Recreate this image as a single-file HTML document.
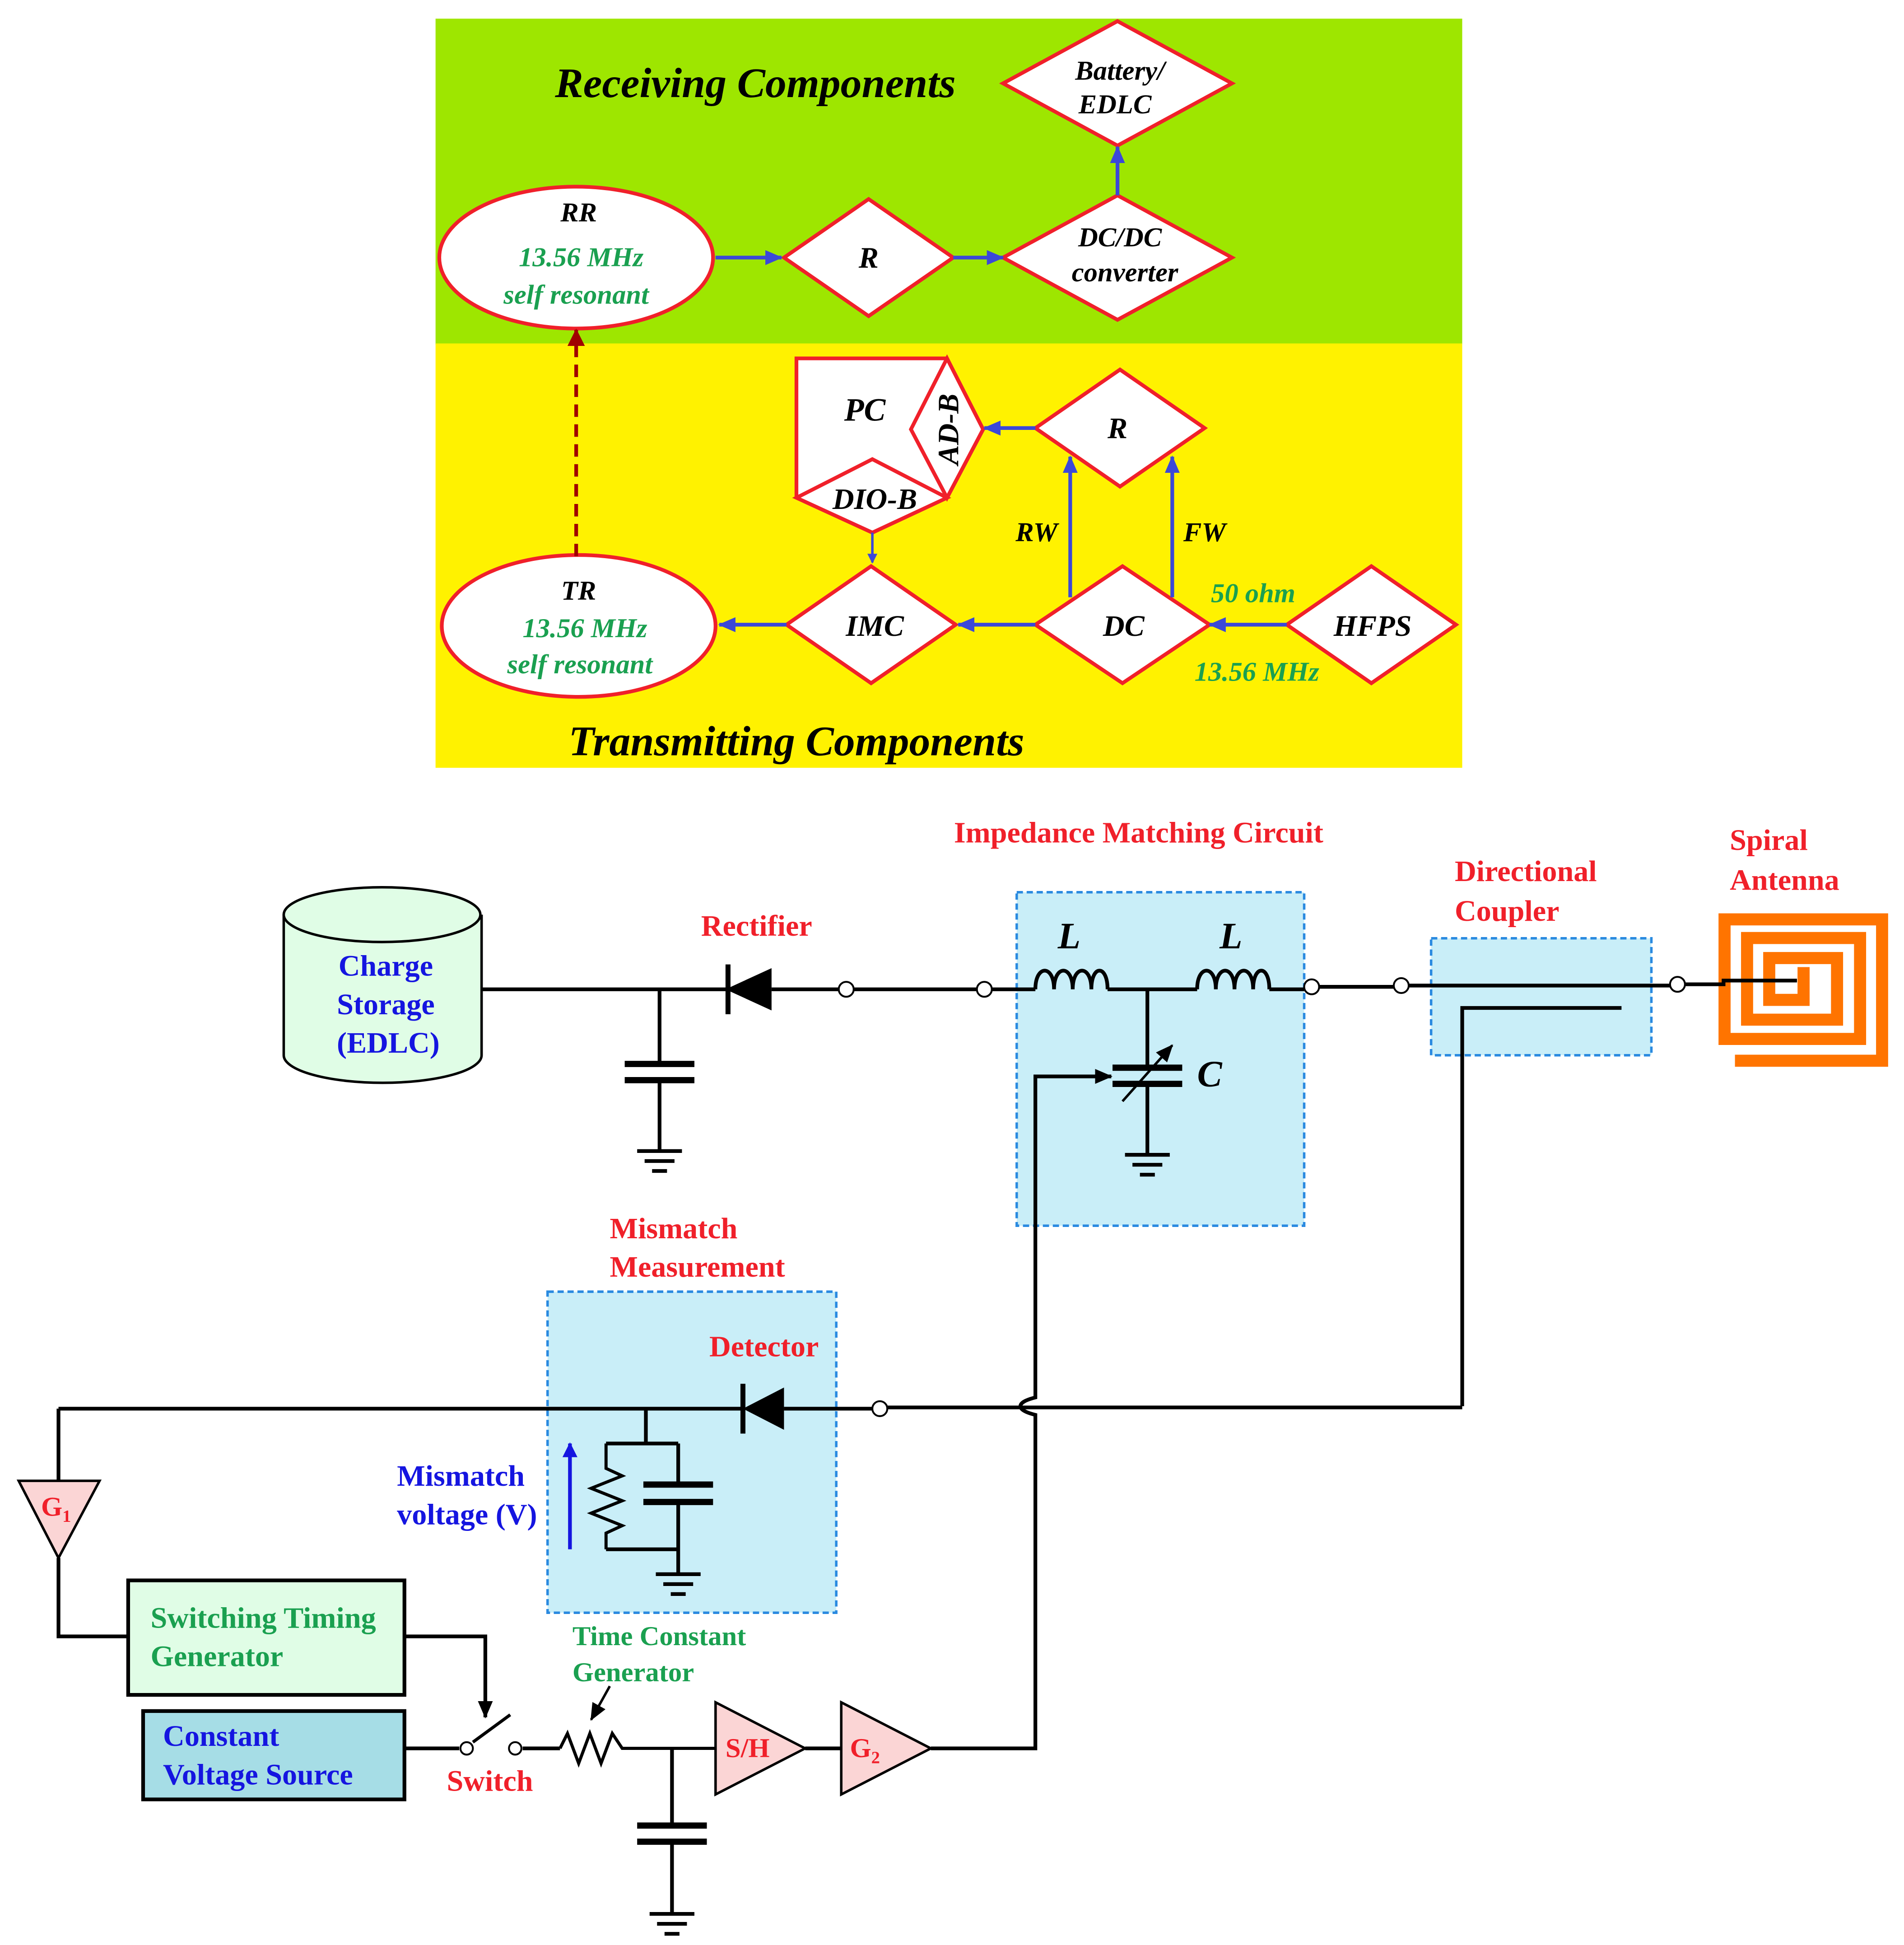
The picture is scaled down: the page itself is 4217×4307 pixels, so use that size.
<!DOCTYPE html>
<html><head><meta charset="utf-8"><style>
html,body{margin:0;padding:0;background:#fff;}
svg{display:block;}
text{font-family:"Liberation Serif",serif;font-weight:bold;}
</style></head><body>
<svg width="4217" height="4307" viewBox="0 0 1530 1563" preserveAspectRatio="none" xmlns="http://www.w3.org/2000/svg">
<defs>
<marker id="ab" markerWidth="8" markerHeight="8" refX="7" refY="4" orient="auto" markerUnits="userSpaceOnUse"><path d="M0,0 L8,4 L0,8 Z" fill="#3b48d8"/></marker>
<marker id="abig" markerWidth="14" markerHeight="12" refX="13" refY="6" orient="auto" markerUnits="userSpaceOnUse"><path d="M0,0 L14,6 L0,12 Z" fill="#3b48d8"/></marker>
<marker id="ar" markerWidth="14" markerHeight="14" refX="13" refY="7" orient="auto" markerUnits="userSpaceOnUse"><path d="M0,0 L14,7 L0,14 Z" fill="#a00000"/></marker>
<marker id="ak" markerWidth="14" markerHeight="12" refX="13" refY="6" orient="auto" markerUnits="userSpaceOnUse"><path d="M0,0 L14,6 L0,12 Z" fill="#000"/></marker>
<marker id="akb" markerWidth="12" markerHeight="12" refX="11" refY="6" orient="auto" markerUnits="userSpaceOnUse"><path d="M0,0 L12,6 L0,12 Z" fill="#1515e0"/></marker>
</defs>
<rect x="350" y="15" width="825" height="262" fill="#9ee600"/>
<rect x="350" y="276" width="825" height="341" fill="#fff200"/>
<g fill="#fff" stroke="#f0202a" stroke-width="3">
<polygon points="898,17 990,67 898,117 806,67"/>
<ellipse cx="463" cy="207" rx="110" ry="57"/>
<polygon points="698,160 766,207 698,254 630,207"/>
<polygon points="898,157 990,207 898,257 806,207"/>
<polygon points="640,288 761,288 790,345 761,400 701,428 640,400"/>
<polygon points="761,288 790,345 761,400 732,345"/>
<polygon points="701,369 761,400 701,428 640,400"/>
<polygon points="900,297 968,344 900,391 832,344"/>
<polygon points="902,455 972,502 902,549 832,502"/>
<polygon points="700,455 768,502 700,549 632,502"/>
<polygon points="1102,455 1170,502 1102,549 1034,502"/>
<ellipse cx="465" cy="503" rx="110" ry="57"/>
</g>
<g stroke="#3b48d8" stroke-width="3" fill="none">
<line x1="575" y1="207" x2="628" y2="207" marker-end="url(#abig)"/>
<line x1="766" y1="207" x2="806" y2="207" marker-end="url(#abig)"/>
<line x1="898" y1="157" x2="898" y2="118" marker-end="url(#abig)"/>
<line x1="832" y1="344" x2="791" y2="344" marker-end="url(#abig)"/>
<line x1="860" y1="480" x2="860" y2="367" marker-end="url(#abig)"/>
<line x1="942" y1="480" x2="942" y2="367" marker-end="url(#abig)"/>
<line x1="701" y1="428" x2="701" y2="452" stroke-width="2" marker-end="url(#ab)"/>
<line x1="1034" y1="502" x2="972" y2="502" marker-end="url(#abig)"/>
<line x1="832" y1="502" x2="770" y2="502" marker-end="url(#abig)"/>
<line x1="632" y1="502" x2="578" y2="502" marker-end="url(#abig)"/>
</g>
<line x1="463" y1="447" x2="463" y2="265" stroke="#a00000" stroke-width="3" stroke-dasharray="10,6" marker-end="url(#ar)"/>
<g font-size="22" text-anchor="middle" fill="#000" font-style="italic">
<text x="607" y="78" font-size="34">Receiving Components</text>
<text x="900" y="64">Battery/</text>
<text x="896" y="91">EDLC</text>
<text x="465" y="178">RR</text>
<text x="467" y="214" fill="#1aa050">13.56 MHz</text>
<text x="463" y="244" fill="#1aa050">self resonant</text>
<text x="698" y="215" font-size="24">R</text>
<text x="900" y="198">DC/DC</text>
<text x="904" y="226">converter</text>
<text x="695" y="338" font-size="26">PC</text>
<text x="703" y="409" font-size="24">DIO-B</text>
<text x="0" y="0" font-size="24" transform="translate(770,345) rotate(-90)">AD-B</text>
<text x="898" y="352" font-size="24">R</text>
<text x="833" y="435">RW</text>
<text x="968" y="435">FW</text>
<text x="465" y="482">TR</text>
<text x="470" y="512" fill="#1aa050">13.56 MHz</text>
<text x="466" y="541" fill="#1aa050">self resonant</text>
<text x="703" y="511" font-size="24">IMC</text>
<text x="903" y="511" font-size="24">DC</text>
<text x="1103" y="511" font-size="24">HFPS</text>
<text x="1007" y="484" fill="#1aa050">50 ohm</text>
<text x="1010" y="547" fill="#1aa050">13.56 MHz</text>
<text x="640" y="607" font-size="34">Transmitting Components</text>
</g>
<rect x="817" y="717" width="231" height="268" fill="#c9eef8" stroke="#2a8ae0" stroke-width="2" stroke-dasharray="5,3"/>
<rect x="1150" y="754" width="177" height="94" fill="#c9eef8" stroke="#2a8ae0" stroke-width="2" stroke-dasharray="5,3"/>
<rect x="440" y="1038" width="232" height="258" fill="#c9eef8" stroke="#2a8ae0" stroke-width="2" stroke-dasharray="5,3"/>
<path d="M228,735 L228,848 A79,22 0 0 0 387,848 L387,735" fill="#e0fde6" stroke="#000" stroke-width="2"/>
<ellipse cx="307" cy="735" rx="79" ry="22" fill="#e0fde6" stroke="#000" stroke-width="2"/>
<!-- spiral antenna -->
<path d="M1399,852.4 L1512.4,852.4 L1512.4,738.8 L1385.8,738.8 L1385.8,834.9 L1494.7,834.9 L1494.7,753.8 L1403.9,753.8 L1403.9,819.4 L1476.2,819.4 L1476.2,769.9 L1421.7,769.9 L1421.7,803.5 L1449.3,803.5 L1449.3,782" fill="none" stroke="#ff7400" stroke-width="9.7" stroke-linejoin="miter" stroke-linecap="square"/>
<g stroke="#000" stroke-width="3" fill="none">
<line x1="387" y1="795" x2="585" y2="795"/>
<line x1="530" y1="795" x2="530" y2="855"/>
<line x1="502" y1="855" x2="558" y2="855" stroke-width="5"/>
<line x1="502" y1="868" x2="558" y2="868" stroke-width="5"/>
<line x1="530" y1="868" x2="530" y2="925"/>
<line x1="512" y1="925" x2="548" y2="925"/><line x1="518" y1="933" x2="542" y2="933"/><line x1="524" y1="941" x2="536" y2="941"/>
<line x1="585" y1="775" x2="585" y2="815" stroke-width="4"/>
<line x1="620" y1="795" x2="674" y2="795"/>
<line x1="686" y1="795" x2="785" y2="795"/>
<line x1="797" y1="795" x2="832" y2="795"/>
<path d="M832,795 C832,775 847,775 847,795 C847,775 862,775 862,795 C862,775 877,775 877,795 C877,775 890,775 890,795"/>
<line x1="890" y1="795" x2="962" y2="795"/>
<path d="M962,795 C962,775 977,775 977,795 C977,775 992,775 992,795 C992,775 1007,775 1007,795 C1007,775 1020,775 1020,795"/>
<line x1="1020" y1="795" x2="1048" y2="795"/>
<line x1="1060" y1="793" x2="1120" y2="793"/>
<line x1="1132" y1="792" x2="1342" y2="792"/>
<path d="M1354,791 L1385,791 L1385,788 L1444,788" />
<line x1="922" y1="795" x2="922" y2="858"/>
<line x1="894" y1="858" x2="950" y2="858" stroke-width="5"/>
<line x1="894" y1="871" x2="950" y2="871" stroke-width="5"/>
<line x1="922" y1="871" x2="922" y2="928"/>
<line x1="904" y1="928" x2="940" y2="928"/><line x1="910" y1="936" x2="934" y2="936"/><line x1="916" y1="944" x2="928" y2="944"/>
<line x1="902" y1="885" x2="942" y2="840" stroke-width="2" marker-end="url(#ak)"/>
<path d="M748,1405 L832,1405 L832,1137 Q820,1134 820,1130 Q820,1126 832,1123 L832,865 L893,865" marker-end="url(#ak)"/>
<path d="M1175,1130 L1175,810 L1303,810"/>
<line x1="47" y1="1132" x2="597" y2="1132"/>
<line x1="630" y1="1132" x2="701" y2="1132"/>
<line x1="713" y1="1131" x2="1175" y2="1131"/>
<line x1="597" y1="1112" x2="597" y2="1152" stroke-width="4"/>
<line x1="519" y1="1132" x2="519" y2="1160"/>
<line x1="487" y1="1160" x2="545" y2="1160"/>
<path d="M487,1160 L487,1180 L500,1186 L475,1196 L500,1206 L475,1216 L500,1226 L487,1232 L487,1245" stroke-width="2.5"/>
<line x1="545" y1="1160" x2="545" y2="1193"/>
<line x1="517" y1="1193" x2="573" y2="1193" stroke-width="5"/>
<line x1="517" y1="1207" x2="573" y2="1207" stroke-width="5"/>
<line x1="545" y1="1207" x2="545" y2="1265"/>
<line x1="487" y1="1245" x2="545" y2="1245"/>
<line x1="527" y1="1265" x2="563" y2="1265"/><line x1="533" y1="1273" x2="557" y2="1273"/><line x1="539" y1="1281" x2="551" y2="1281"/>
<line x1="47" y1="1132" x2="47" y2="1190"/>
<path d="M47,1252 L47,1315 L103,1315"/>
<path d="M325,1315 L390,1315 L390,1380" marker-end="url(#ak)"/>
<line x1="325" y1="1405" x2="369" y2="1405"/>
<line x1="380" y1="1400" x2="410" y2="1378" stroke-width="2.5"/>
<line x1="420" y1="1405" x2="450" y2="1405"/>
<path d="M450,1405 L456,1393 L465,1417 L474,1393 L483,1417 L492,1393 L500,1405 L575,1405" stroke-width="2.5"/>
<line x1="490" y1="1355" x2="475" y2="1382" stroke-width="2" marker-end="url(#ak)"/>
<line x1="540" y1="1405" x2="540" y2="1467"/>
<line x1="512" y1="1467" x2="568" y2="1467" stroke-width="5"/>
<line x1="512" y1="1480" x2="568" y2="1480" stroke-width="5"/>
<line x1="540" y1="1480" x2="540" y2="1538"/>
<line x1="522" y1="1538" x2="558" y2="1538"/><line x1="528" y1="1546" x2="552" y2="1546"/><line x1="534" y1="1554" x2="546" y2="1554"/>
<line x1="647" y1="1405" x2="676" y2="1405"/>
</g>
<polygon points="583,795 620,778 620,812" fill="#000"/>
<polygon points="597,1132 630,1115 630,1149" fill="#000"/>
<g fill="#fff" stroke="#000" stroke-width="1.5">
<circle cx="680" cy="795" r="6"/><circle cx="791" cy="795" r="6"/><circle cx="1054" cy="793" r="6"/><circle cx="1126" cy="792" r="6"/><circle cx="1348" cy="791" r="6"/><circle cx="707" cy="1132" r="6"/><circle cx="375" cy="1405" r="5"/><circle cx="414" cy="1405" r="5"/>
</g>
<line x1="458" y1="1245" x2="458" y2="1160" stroke="#1515e0" stroke-width="3" marker-end="url(#akb)"/>
<polygon points="15,1190 80,1190 47,1252" fill="#fbd5d5" stroke="#000" stroke-width="2"/>
<polygon points="575,1368 575,1442 647,1405" fill="#fbd5d5" stroke="#000" stroke-width="2"/>
<polygon points="676,1368 676,1442 748,1405" fill="#fbd5d5" stroke="#000" stroke-width="2"/>
<rect x="103" y="1270" width="222" height="92" fill="#e0fde6" stroke="#000" stroke-width="3"/>
<rect x="115" y="1375" width="210" height="71" fill="#a6dde6" stroke="#000" stroke-width="3"/>
<g font-size="24">
<text x="310" y="784" fill="#1515e0" text-anchor="middle">Charge</text>
<text x="310" y="815" fill="#1515e0" text-anchor="middle">Storage</text>
<text x="312" y="846" fill="#1515e0" text-anchor="middle">(EDLC)</text>
<text x="608" y="752" fill="#f0202a" text-anchor="middle">Rectifier</text>
<text x="915" y="677" fill="#f0202a" text-anchor="middle">Impedance Matching Circuit</text>
<text x="1169" y="708" fill="#f0202a">Directional</text>
<text x="1169" y="740" fill="#f0202a">Coupler</text>
<text x="1390" y="683" fill="#f0202a">Spiral</text>
<text x="1390" y="715" fill="#f0202a">Antenna</text>
<text x="490" y="995" fill="#f0202a">Mismatch</text>
<text x="490" y="1026" fill="#f0202a">Measurement</text>
<text x="570" y="1090" fill="#f0202a">Detector</text>
<text x="319" y="1194" fill="#1515e0">Mismatch</text>
<text x="319" y="1225" fill="#1515e0">voltage (V)</text>
<text x="121" y="1308" fill="#1aa050">Switching Timing</text>
<text x="121" y="1339" fill="#1aa050">Generator</text>
<text x="131" y="1403" fill="#1515e0">Constant</text>
<text x="131" y="1434" fill="#1515e0">Voltage Source</text>
<text x="359" y="1439" fill="#f0202a">Switch</text>
<text x="460" y="1322" fill="#1aa050" font-size="22">Time Constant</text>
<text x="460" y="1351" fill="#1aa050" font-size="22">Generator</text>
<text x="33" y="1218" fill="#f0202a" font-size="22">G<tspan font-size="14" dy="5">1</tspan></text>
<text x="583" y="1412" fill="#f0202a" font-size="22">S/H</text>
<text x="683" y="1412" fill="#f0202a" font-size="22">G<tspan font-size="14" dy="5">2</tspan></text>
<text x="850" y="762" font-style="italic" font-weight="normal" font-size="30">L</text>
<text x="980" y="762" font-style="italic" font-weight="normal" font-size="30">L</text>
<text x="962" y="873" font-style="italic" font-weight="normal" font-size="30">C</text>
</g>
</svg>
</body></html>
